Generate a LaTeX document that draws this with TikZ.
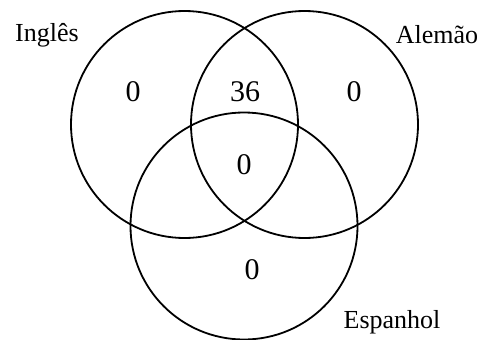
\documentclass[tikz,border=0pt]{standalone}
\usepackage{fontspec}
\setmainfont{Liberation Serif}
\usepackage{tikz}
\usetikzlibrary{positioning}

\begin{document}
\begin{tikzpicture}[x=1pt,y=-1pt,
    set/.style={draw,circle,line width=1.8pt,minimum size=227pt,inner sep=0pt},
    count/.style={font=\fontsize{30}{34}\selectfont},
    setname/.style={font=\fontsize{26}{30}\selectfont}]
    \useasboundingbox (0,0) rectangle (482,340);
    \node[set] (ingles) at (184.5,124.5) {};
    \node[set] (alemao) at (304.5,124.5) {};
    \node[set] (espanhol) at (244,226) {};

    \node[setname] (lingles) at (47,35) {Inglês};
    \node[setname] (lalemao) at (437,35) {Alemão};
    \node[setname] (lespanhol) at (392,322) {Espanhol};

    \node[count] (ni) at (133,92) {0};
    \node[count] (nia) at (245,92) {36};
    \node[count] (na) at (354,92) {0};
    \node[count] (nall) at (244,165) {0};
    \node[count] (ne) at (252,270) {0};
\end{tikzpicture}
\end{document}
